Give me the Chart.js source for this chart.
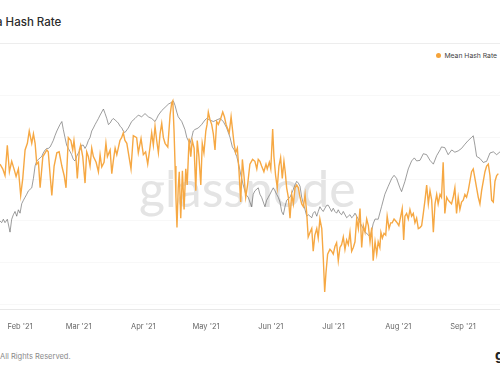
<!DOCTYPE html>
<html>
<head>
<meta charset="utf-8">
<script src="https://cdn.jsdelivr.net/npm/chart.js@4.4.1/dist/chart.umd.min.js"></script>
<style>
  html, body { margin: 0; padding: 0; background: #fff; }
  #wrap { position: relative; width: 500px; height: 375px; overflow: hidden; font-family: Inter, "Noto Sans", sans-serif; }
  #title { position: absolute; left: -4px; top: 15px; font-size: 11.5px; font-weight: 500; color: #2b2b2b; white-space: nowrap; }
  #sep { position: absolute; left: 0; top: 43px; width: 500px; height: 1px; background: #ededed; }
  #legend { position: absolute; right: 3px; top: 51px; font-size: 6.8px; color: #444; white-space: nowrap; }
  #legend i { display: inline-block; width: 5px; height: 5px; border-radius: 50%; background: #f5a33a; margin-right: 3px; vertical-align: 0px; }
  #mark { position: absolute; left: 139px; top: 158px; font-family: Lato, sans-serif; font-size: 50px; color: #e4e4e4; white-space: nowrap; }
  #foot { position: absolute; left: 0; top: 352px; font-size: 7.5px; color: #8a8a8a; white-space: nowrap; }
  #logo { position: absolute; left: 495px; top: 346px; font-size: 14px; font-weight: 700; color: #222; }
  canvas { position: absolute; left: 0; top: 0; }
</style>
</head>
<body>
<div id="wrap">
  <div id="title">a Hash Rate</div>
  <div id="sep"></div>
  <div id="legend"><i></i>Mean Hash Rate</div>
  <div id="mark">glassnode</div>
  <div id="foot">All Rights Reserved.</div>
  <div id="logo">g</div>
  <canvas id="hash-chart" width="500" height="375"></canvas>
</div>
<script>
// days counted from 1 Feb 2021
var monthDays = [0, 28, 59, 89, 120, 150, 181, 212];
var monthLabels = ["Feb '21", "Mar '21", "Apr '21", "May '21", "Jun '21", "Jul '21", "Aug '21", "Sep '21"];

// mean hash rate, EH/s
var hashDays = [-9.6,-8.3,-7.2,-6.1,-5.1,-4.0,-2.9,-1.9,-0.8,0.3,1.3,2.4,3.5,4.4,5.6,6.4,7.2,8.0,8.8,9.6,10.9,12.0,12.8,13.5,14.4,15.2,16.3,17.6,18.7,20.0,21.1,22.0,23.1,24.3,25.2,25.8,26.8,27.4,28.4,29.0,30.0,31.1,31.9,32.7,33.5,34.3,35.1,36.4,37.5,38.3,39.1,40.2,41.1,41.8,43.1,43.9,44.6,45.5,46.3,47.0,47.8,48.6,49.4,
  50.2,51.1,53.1,54.2,55.8,56.6,57.9,59.0,60.1,61.1,62.2,63.0,63.8,64.6,65.4,66.2,67.0,67.8,68.6,69.4,70.7,71.8,72.6,73.1,73.7,74.2,74.6,75.1,75.7,76.2,76.9,77.7,78.5,79.3,80.0,80.9,81.7,82.4,83.3,84.1,84.8,85.6,86.5,87.2,88.0,88.9,89.5,90.1,90.9,91.7,92.5,93.3,94.1,94.9,96.0,97.0,97.8,98.6,99.4,100.1,101.0,101.6,102.4,103.2,104.0,104.8,105.6,106.4,107.2,108.0,108.9,110.0,
  111.3,112.4,113.3,114.0,114.8,115.6,116.7,117.7,118.3,119.3,120.0,120.9,121.5,122.3,123.1,123.9,124.7,125.5,126.3,126.9,127.6,128.4,129.2,130.0,130.8,131.6,132.4,133.2,134.0,134.8,135.6,136.4,137.2,137.9,138.8,139.6,140.3,141.1,142.0,142.7,143.5,144.4,145.1,145.8,146.4,147.2,148.3,149.1,149.9,150.7,151.5,152.3,153.1,153.9,154.7,155.5,156.3,157.1,157.9,158.7,159.5,160.3,161.1,161.9,162.7,163.5,164.3,165.1,165.9,166.7,167.5,168.3,169.0,169.9,
  170.7,171.4,172.2,172.7,173.4,174.2,175.0,175.7,176.6,177.4,178.1,179.0,179.8,180.5,181.3,182.2,182.9,183.6,184.2,185.0,185.8,186.6,187.4,188.2,189.0,189.8,190.6,191.4,192.2,193.0,193.8,194.6,195.4,196.2,197.0,197.8,198.6,199.4,200.1,201.0,201.7,202.5,203.3,204.2,204.9,205.7,206.5,207.3,208.1,208.9,209.7,210.5,211.3,212.1,212.9,213.7,214.5,215.3,216.1,216.9,217.7,218.5,219.3,220.1,220.9,221.7,222.5,223.3,224.1,224.9,225.7,226.5,227.3,228.1,228.9];
var hashRate = [160,157.5,154,170,156,161.5,157.5,153.5,157.5,143.5,152.5,167.5,171,177.5,171,176,171,160,161,147.5,164,166,167.5,166.5,154,143.5,159,166,166.5,159,154,147.5,174,172.5,167.5,172.5,162.5,152.5,167.5,170,164,150,166.5,164,159,168.5,164,161,156,165,158.5,161,171,164,167.5,155,161.5,168.5,165,168.5,172.5,174,176.5,
  172.5,171,157.5,175,174,166,173.5,165,166.5,160,169,176.5,170,180,172.5,166,176,181.5,174,171,169,186,192.5,193.5,177.5,159,142.5,126.5,147.5,156,131.5,156.5,136,157.5,149,173.5,164,172.5,168.5,146,172.5,164,149,171,166,177.5,181,187.5,183.5,181,176,167.5,182.5,181,184,187.5,185,181,178.5,176.5,185,179,171,166,168.5,156,140,162.5,153.5,142.5,149,160,
  162.5,161.5,157.5,162.5,161.5,159,156,160,157.5,161,157.5,178.5,164,154,147.5,159,163.5,152.5,161.5,156,147.5,142.5,131.5,144,139,147.5,149,147.5,142.5,139,137.5,144,134,121.5,124,126,114,122.5,126,121,131,126,111,92.5,102.5,112.5,115,114,112.5,116.5,118.5,109,116,117.5,121.5,115,120,117.5,124,114,116,119,131,126,136.5,116,127.5,124,131,127.5,119,126.5,109,119,
  112.5,119,116,124,121,123.5,122.5,132.5,126,129,129,131,130,129,127.5,132.5,136.5,120,132.5,134,131,136,132.5,134,129,131.5,126,126.5,127.5,134,141,149,139,146,141,124,139,144,139,144,142.5,161,134,142.5,141,140,139,142.5,147.5,134,142.5,136,140,141,144,142.5,146,151,156,157.5,152.5,147.5,142.5,139,146,151,156,159,160,154,141,140,151,154,155];

// BTC price, thousand USD
var priceDays = [-9.6,-8.8,-8.0,-7.2,-6.1,-4.8,-4.0,-3.2,-2.4,-1.6,-0.8,0,0.8,1.6,2.4,3.2,4.0,4.8,5.6,6.4,7.2,8.0,8.8,9.6,10.4,11.1,12.0,12.8,13.5,14.4,15.2,15.9,16.7,17.6,18.3,19.1,20.0,20.7,21.5,22.3,23.1,23.9,24.7,25.5,26.3,27.1,27.9,28.7,29.5,30.3,31.1,31.9,32.7,33.5,34.3,35.1,35.9,36.7,37.5,38.3,39.1,39.9,40.7,41.5,42.3,43.1,43.9,44.6,45.5,46.3,47.0,47.9,48.7,49.4,
  50.2,51.8,53.4,55.0,56.6,58.2,59.8,61.4,63.0,64.6,65.4,66.2,67.8,69.4,71.0,72.3,73.4,74.2,75.0,75.7,77.4,78.9,79.8,80.5,81.3,82.2,82.9,83.7,85.3,86.9,88.5,89.3,90.9,92.5,94.1,95.7,97.3,98.9,100.5,101.6,102.5,103.7,104.8,105.7,106.8,108.0,109.2,
  110.0,110.8,111.6,112.4,114.0,114.8,115.6,116.4,117.2,118.0,118.8,119.6,120.4,121.2,122.0,122.8,123.6,124.4,125.2,126.0,126.8,127.6,129.2,130.8,131.6,132.4,133.2,134.0,134.8,135.6,136.4,137.2,137.9,138.8,139.6,140.3,141.1,142.0,142.7,143.5,144.4,145.1,145.9,146.8,147.5,148.3,149.1,149.9,150.7,151.5,152.3,153.1,153.9,154.7,156.3,157.1,157.9,158.7,159.5,160.3,161.9,162.7,163.5,164.3,165.1,165.9,166.7,167.5,168.3,169.0,169.9,
  171.4,173.0,174.6,176.2,177.9,179.0,180.2,181.8,182.6,184.2,185.8,187.4,188.7,189.8,191.4,193.0,194.6,196.2,197.8,199.4,201.0,201.7,203.3,204.9,206.6,208.1,209.7,211.3,212.9,214.5,216.1,216.9,217.7,218.5,220.1,221.7,223.3,224.9,226.5,228.1,229.7];
var priceUsd = [31.75,31.3,32.2,31.3,32.2,28.8,32.2,33.4,34.25,33.0,34.7,33.8,36.3,37.2,38.0,38.8,39.7,40.1,40.5,43.0,46.3,47.6,48.0,48.4,48.8,49.7,50.5,50.9,50.9,51.3,52.2,53.0,54.25,55.5,56.3,57.2,58.0,55.9,53.8,51.75,50.9,50.1,49.25,48.0,47.6,48.8,49.7,50.5,51.75,51.75,50.9,51.75,53.0,53.8,55.5,56.3,57.2,58.0,58.8,59.7,60.5,61.3,60.1,58.8,57.2,57.6,58.4,58.8,58.4,58.0,57.6,56.75,56.3,55.5,
  55.1,56.3,58.0,58.8,59.7,59.25,60.1,59.25,58.8,58.0,58.8,59.7,60.9,61.75,62.6,63.0,63.4,62.2,60.5,59.25,58.0,55.9,53.8,53.0,52.2,53.8,55.5,55.9,56.3,57.2,58.4,58.8,58.4,58.0,58.4,58.8,58.0,56.3,53.8,51.3,50.5,48.8,46.3,43.8,41.3,38.8,38.0,
  36.75,35.5,38.8,39.7,40.5,38.8,38.0,36.75,35.5,37.2,38.0,38.8,39.7,40.5,39.7,38.8,38.0,36.75,34.25,33.4,35.5,37.2,38.0,40.1,41.3,42.2,41.75,40.9,38.0,36.3,34.7,33.0,33.4,33.0,32.6,33.8,34.25,33.0,34.25,35.5,34.7,34.25,35.1,35.9,35.9,35.1,34.25,35.1,34.25,33.8,34.7,33.8,33.4,34.25,32.6,33.0,33.4,32.6,33.0,33.8,32.2,31.3,30.5,29.7,28.8,28.5,28.0,27.5,29.25,31.0,32.25,
  32.2,35.5,38.8,40.9,43.0,43.8,43.0,40.5,39.5,42.2,45.5,47.6,48.4,47.6,47.75,49.5,49.25,47.75,46.75,49.0,50.5,51.3,51.1,49.25,50.5,49.9,50.25,50.9,52.0,53.0,53.8,54.25,51.75,48.8,48.25,47.2,47.5,49.7,50.0,49.25,50.0];

var gridValues = [86, 108, 130, 152, 174, 196];

function toPoints(xs, ys) {
  return xs.map(function (x, i) { return { x: x, y: ys[i] }; });
}

function hashChart() {
  var ctx = document.getElementById('hash-chart').getContext('2d');

  var data = {
    datasets: [
      {
        label: 'Mean Hash Rate',
        data: toPoints(hashDays, hashRate),
        borderColor: '#f6a843',
        borderWidth: 1.4,
        pointRadius: 0,
        tension: 0,
        yAxisID: 'y'
      },
      {
        label: 'Price',
        data: toPoints(priceDays, priceUsd),
        borderColor: '#5a5a5a',
        borderWidth: 0.6,
        pointRadius: 0,
        tension: 0,
        yAxisID: 'y1'
      }
    ]
  };

  var options = {
    responsive: false,
    animation: false,
    layout: { padding: { top: 60, bottom: 39, left: 0, right: 0 } },
    plugins: { legend: { display: false }, tooltip: { enabled: false } },
    scales: {
      x: {
        type: 'linear',
        min: -9.6,
        max: 229.7,
        grid: { display: false },
        border: { display: true, color: '#e8e8e8' },
        afterBuildTicks: function (scale) {
          scale.ticks = monthDays.map(function (d) { return { value: d }; });
        },
        ticks: {
          autoSkip: false,
          maxRotation: 0,
          padding: 5,
          color: '#666',
          font: { size: 7.5, family: 'Inter' },
          callback: function (v, i) { return monthLabels[i]; }
        }
      },
      y: {
        position: 'left',
        min: 83.5,
        max: 215,
        grid: { color: '#f8f8f8', drawTicks: false },
        border: { display: false },
        afterBuildTicks: function (scale) {
          scale.ticks = gridValues.map(function (v) { return { value: v }; });
        },
        ticks: { display: false }
      },
      y1: {
        display: false,
        min: 8.5,
        max: 74.25
      }
    }
  };

  new Chart(ctx, { type: 'line', data: data, options: options });
}

hashChart();
</script>
</body>
</html>
